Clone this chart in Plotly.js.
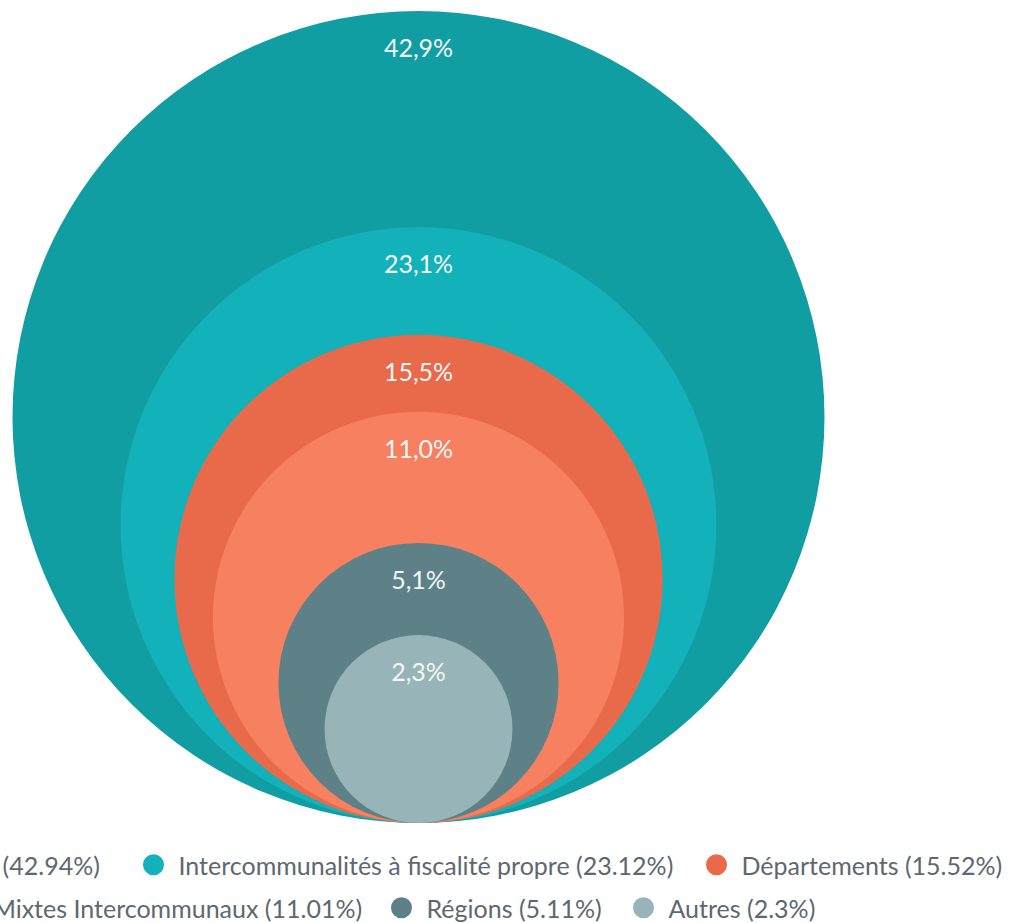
<!DOCTYPE html>
<html>
<head>
<meta charset="utf-8">
<script src="https://cdn.plot.ly/plotly-3.0.1.min.js"></script>
<style>
  html, body { margin: 0; padding: 0; overflow: hidden; background: #fff; }
  #chart { position: absolute; left: -160px; top: 0; width: 1174px; height: 923px; }
</style>
</head>
<body>
<div id="chart"></div>
<script>
// ---- data ----
const categories = ["Communes", "Intercommunalités à fiscalité propre", "Départements",
                    "Syndicats Mixtes Intercommunaux", "Régions", "Autres"];
const shares = [42.94, 23.12, 15.52, 11.01, 5.11, 2.3];
const shareLabels = ["42,9%", "23,1%", "15,5%", "11,0%", "5,1%", "2,3%"];
const colors = ["#119ea3", "#13b1b9", "#e86a4b", "#f6805f", "#5e8187", "#97b4b9"];

// ---- geometry (px) ----
const plotW = 840, plotH = 823;
const bigRadiusPx = 406;
const centerXPx = 418.5;
const labelOffsetPx = 40;

// legend placement (window px): right end of each entry's text, row centre
const legendTextEnd = [100, 673, 1002, 362, 602, 815];
const legendRowY = [865, 865, 865, 908, 908, 908];

const rUnits = shares.map(v => Math.sqrt(v));
const maxR = Math.max(...rUnits);
const pxPerUnit = bigRadiusPx / maxR;

const shapes = shares.map((v, i) => ({
  type: "circle", xref: "x", yref: "y", layer: "below",
  x0: -rUnits[i], x1: rUnits[i], y0: 0, y1: 2 * rUnits[i],
  fillcolor: colors[i], line: { width: 0 }
}));

const labelTrace = {
  type: "scatter", mode: "text",
  x: shares.map(() => 0),
  y: rUnits.map(r => 2 * r - labelOffsetPx / pxPerUnit),
  text: shareLabels,
  textfont: { family: "Lato, sans-serif", size: 25, color: "#f2f7f7" },
  textposition: "middle center",
  hoverinfo: "skip", showlegend: false
};

const legendIds = categories.map((c, i) => i === 0 ? "legend" : "legend" + (i + 1));

const legendTraces = categories.map((c, i) => ({
  type: "scatter", mode: "markers",
  x: [null], y: [null],
  name: c + " (" + shares[i] + "%)",
  marker: { symbol: "circle", size: 16, color: colors[i],
            line: { width: 5, color: colors[i] } },
  legend: legendIds[i],
  showlegend: true, hoverinfo: "skip"
}));

const legendFont = { family: "Lato, sans-serif", size: 25, color: "#5d6870" };

const layout = {
  width: 1174, height: 923,
  margin: { l: 160, r: 1174 - 160 - plotW, t: 0, b: 923 - plotH, autoexpand: false },
  paper_bgcolor: "#ffffff", plot_bgcolor: "#ffffff",
  xaxis: { range: [-centerXPx / pxPerUnit, (plotW - centerXPx) / pxPerUnit],
           visible: false, fixedrange: true },
  yaxis: { range: [0, plotH / pxPerUnit], visible: false, fixedrange: true },
  shapes: shapes,
  showlegend: true
};

legendIds.forEach((id, i) => {
  layout[id] = {
    orientation: "h",
    x: (legendTextEnd[i] + 5.5) / plotW, xanchor: "right",
    y: (plotH - legendRowY[i]) / plotH, yanchor: "middle",
    font: legendFont, itemwidth: 40, bgcolor: "rgba(0,0,0,0)"
  };
});

Plotly.newPlot("chart", [labelTrace, ...legendTraces], layout,
               { displayModeBar: false, staticPlot: true });
</script>
</body>
</html>
